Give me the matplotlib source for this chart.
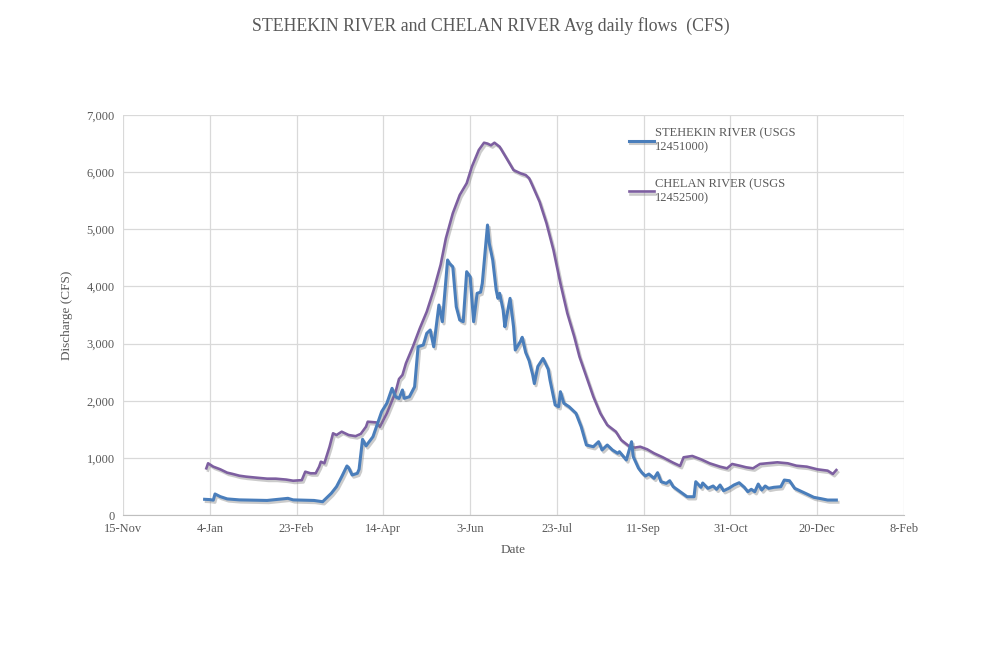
import pandas as pd
import matplotlib
matplotlib.use("Agg")
import matplotlib.pyplot as plt
import matplotlib.patheffects as pe
from matplotlib.ticker import FuncFormatter

# day of year offsets (0 = 1-Jan), with flow in CFS
stehekin_day = [0, 3, 5, 6, 9, 13, 20, 36, 48, 51, 63, 68, 73, 76, 79, 82, 83, 85, 88, 89,
                91, 93, 97, 100, 102, 105, 108, 110, 112, 114, 115, 118, 121, 123, 126, 128,
                130, 132, 135, 137, 140, 141, 143, 145, 147, 149, 151, 153, 155, 157, 159,
                160, 163, 164, 166, 168, 169, 170, 172, 173, 174, 176, 178, 179, 182, 183,
                185, 187, 189, 190, 192, 195, 198, 199, 202, 204, 205, 207, 210, 214, 217,
                220, 224, 227, 229, 232, 235, 238, 239, 243, 246, 247, 250, 252, 254, 256,
                259, 261, 263, 266, 268, 270, 274, 278, 282, 283, 286, 287, 290, 293, 295,
                297, 299, 302, 305, 308, 311, 313, 315, 317, 319, 321, 323, 325, 328, 332,
                334, 337, 340, 343, 347, 351, 355, 359, 364]
stehekin_cfs = [275, 270, 260, 368, 322, 282, 265, 255, 292, 265, 255, 233, 380, 496, 671, 858,
                830, 700, 730, 800, 1325, 1210, 1370, 1633, 1808, 1955, 2217, 2070, 2040,
                2188, 2042, 2070, 2245, 2945, 2975, 3180, 3238, 2945, 3675, 3383, 4463, 4405,
                4345, 3645, 3413, 3383, 4258, 4170, 3383, 3880, 3900, 4055, 5075, 4755, 4463,
                3938, 3792, 3880, 3588, 3295, 3470, 3792, 3295, 2888, 3040, 3110, 2845, 2700,
                2460, 2300, 2600, 2740, 2550, 2363, 1925, 1895, 2158, 1955, 1895, 1780, 1545,
                1225, 1195, 1283, 1138, 1225, 1138, 1080, 1108, 963, 1283, 1020, 820, 741,
                683, 717, 642, 741, 583, 554, 600, 496, 408, 320, 320, 583, 485, 560, 467,
                508, 450, 525, 425, 467, 525, 565, 485, 408, 450, 408, 542, 437, 508, 467,
                485, 496, 612, 600, 467, 425, 368, 310, 287, 262, 262]

chelan_day = [1, 2, 5, 9, 13, 16, 20, 24, 30, 36, 41, 47, 51, 56, 58, 61, 64, 66, 67, 69, 72,
              74, 76, 79, 83, 87, 90, 93, 94, 99, 101, 105, 110, 112, 114, 116, 120, 124, 128,
              132, 136, 139, 143, 147, 151, 154, 158, 161, 163, 165, 167, 170, 174, 178, 182,
              185, 187, 189, 193, 197, 201, 205, 209, 213, 216, 220, 224, 228, 232, 237, 240,
              245, 248, 251, 255, 259, 264, 270, 274, 276, 281, 286, 291, 297, 301, 304, 309,
              312, 316, 320, 324, 330, 336, 341, 347, 353, 359, 362, 364]
chelan_cfs = [817, 905, 846, 800, 741, 720, 688, 671, 653, 636, 636, 620, 600, 610, 758, 730,
              730, 846, 933, 905, 1195, 1430, 1400, 1458, 1400, 1380, 1420, 1545, 1633, 1620,
              1545, 1780, 2150, 2380, 2450, 2655, 2945, 3267, 3558, 3938, 4380, 4840, 5280,
              5600, 5805, 6096, 6388, 6515, 6500, 6470, 6515, 6445, 6242, 6037, 5980, 5950,
              5893, 5760, 5483, 5105, 4638, 4055, 3530, 3120, 2770, 2420, 2070, 1780, 1575,
              1458, 1313, 1195, 1180, 1195, 1150, 1080, 1010, 915, 858, 1010, 1033, 975, 905,
              846, 817, 893, 858, 835, 817, 893, 905, 922, 905, 863, 846, 800, 776, 718, 787]

series_names = ["STEHEKIN RIVER (USGS\n12451000)", "CHELAN RIVER (USGS\n12452500)"]
tick_labels = ["15-Nov", "4-Jan", "23-Feb", "14-Apr", "3-Jun", "23-Jul",
               "11-Sep", "31-Oct", "20-Dec", "8-Feb"]

year_start = pd.Timestamp("2014-01-01")
stehekin_dates = year_start + pd.to_timedelta(stehekin_day, unit="D")
chelan_dates = year_start + pd.to_timedelta(chelan_day, unit="D")
tick_dates = pd.date_range("2013-11-15", periods=len(tick_labels), freq="50D")

plt.rcParams["font.family"] = ["Liberation Serif", "DejaVu Serif"]
text_col = "#595959"

fig = plt.figure(figsize=(9.82, 6.63), dpi=100)
ax = fig.add_axes([0.1253, 0.2232, 0.7953, 0.6033])

shadow = [pe.SimpleLineShadow(offset=(1.2, -1.6), shadow_color="#7f7f7f", alpha=0.4),
          pe.Normal()]
ax.plot(chelan_dates, chelan_cfs, color="#7D5FA0", lw=1.9, label=series_names[1],
        path_effects=shadow, zorder=3)
ax.plot(stehekin_dates, stehekin_cfs, color="#4A7EBB", lw=2.2, label=series_names[0],
        path_effects=shadow, zorder=4)

ax.set_xlim(tick_dates[0], tick_dates[-1])
ax.set_ylim(0, 7000)
ax.set_xticks(tick_dates)
ax.set_xticklabels(tick_labels)
ax.set_yticks(range(0, 7001, 1000))
ax.yaxis.set_major_formatter(FuncFormatter(lambda v, p: f"{int(v):,}"))
ax.tick_params(length=0, labelsize=9, colors=text_col, pad=6)
ax.grid(True, color="#d9d9d9", lw=0.9)
ax.set_axisbelow(True)
for side in ["top", "right", "left"]:
    ax.spines[side].set_visible(False)
ax.spines["bottom"].set_color("#bfbfbf")

ax.set_xlabel("Date", fontsize=9.5, color=text_col, labelpad=6)
ax.set_ylabel("Discharge (CFS)", fontsize=9.5, color=text_col, labelpad=10)
fig.suptitle("STEHEKIN RIVER and CHELAN RIVER Avg daily flows  (CFS)",
             fontsize=12.8, color=text_col, y=0.975)

handles, labels = ax.get_legend_handles_labels()
leg = ax.legend(handles[::-1], labels[::-1], loc="upper left", bbox_to_anchor=(0.633, 0.997),
                frameon=False, fontsize=9, handlelength=2.0, handletextpad=0.1,
                labelspacing=2.0, labelcolor=text_col)

fig.savefig("out.png", dpi=100, facecolor="white")
